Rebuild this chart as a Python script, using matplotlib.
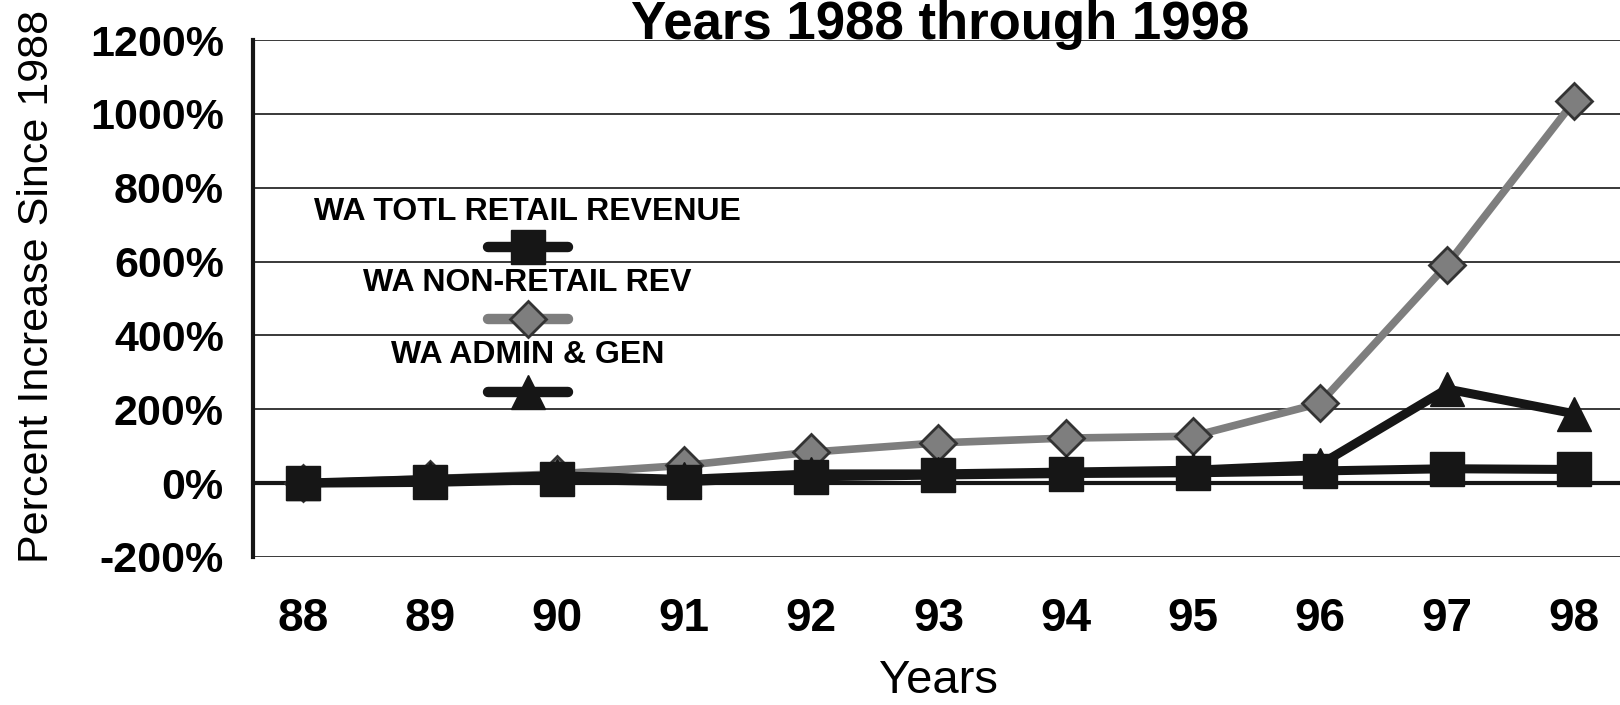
import matplotlib
matplotlib.use("Agg")
import matplotlib.pyplot as plt
from matplotlib.lines import Line2D

plt.rcParams['font.family'] = ['Liberation Sans', 'DejaVu Sans']

# percent increase since 1988
years = ["88", "89", "90", "91", "92", "93", "94", "95", "96", "97", "98"]
retail = [0, 2, 10, 4, 17, 22, 26, 28, 33, 39, 37]
nonretail = [0, 12, 25, 48, 84, 109, 122, 127, 216, 591, 1034]
admin = [0, 10, 20, 10, 25, 25, 30, 35, 50, 255, 188]
y_ticks = [-200, 0, 200, 400, 600, 800, 1000, 1200]

names = ["WA TOTL RETAIL REVENUE", "WA NON-RETAIL REV", "WA ADMIN & GEN"]
BLACK = "#161616"
GRAY = "#7e7e7e"
EDGE = "#333333"

W, H = 1620, 705
fig = plt.figure(figsize=(W / 100, H / 100), dpi=100)
ax = fig.add_axes([253 / W, 1 - 557 / H, 1 - 253 / W, (557 - 40) / H])

x = list(range(len(years)))

ax.plot(x, nonretail, color=GRAY, lw=5.5, marker="D", ms=18,
        mfc=GRAY, mec=EDGE, mew=2, zorder=3)
ax.plot(x, admin, color=BLACK, lw=6.5, marker="^", ms=24,
        mfc=BLACK, mec=BLACK, zorder=4)
ax.plot(x, retail, color=BLACK, lw=6.5, marker="s", ms=24,
        mfc=BLACK, mec=BLACK, zorder=5)

# category axis crossing at 0
ax.axhline(0, color=BLACK, lw=3, zorder=2)

ax.set_xlim(-0.393, 10.362)
ax.set_ylim(-200, 1200)
ax.set_yticks(y_ticks)
ax.set_yticklabels([f"{v}%" for v in y_ticks])
ax.set_xticks(x)
ax.set_xticklabels(years)
ax.tick_params(axis="y", length=0, pad=21, labelsize=31)
ax.tick_params(axis="x", length=0, pad=29, labelsize=33)
for lab in ax.get_xticklabels() + ax.get_yticklabels():
    lab.set_fontweight("bold")

ax.grid(axis="y", color="#2a2a2a", lw=1.3, zorder=1)
ax.set_axisbelow(True)
for side in ["top", "right", "bottom"]:
    ax.spines[side].set_visible(False)
ax.spines["left"].set_linewidth(3)
ax.spines["left"].set_color(BLACK)

fig.text(940 / W, 1 - 39 / H, "Years 1988 through 1998", ha="center",
         va="baseline", fontsize=38, fontweight="bold")
fig.text(37 / W, 1 - 286 / H, "Percent Increase Since 1988", rotation=90,
         ha="center", va="center", fontsize=31)
fig.text(938 / W, 1 - 681 / H, "Years", ha="center", va="center", fontsize=34)

# legend: label above its line sample, stacked
styles = [
    dict(color=BLACK, marker="s", ms=24, mfc=BLACK, mec=BLACK),
    dict(color=GRAY, marker="D", ms=18, mfc=GRAY, mec=EDGE, mew=2),
    dict(color=BLACK, marker="^", ms=24, mfc=BLACK, mec=BLACK),
]
text_y = [211.7, 283.3, 355]
line_y = [246.7, 319.3, 391.7]
cx = 527.5
for name, ty, ly, st in zip(names, text_y, line_y, styles):
    fig.text(cx / W, 1 - ty / H, name, ha="center", va="center",
             fontsize=23, fontweight="bold")
    fig.add_artist(Line2D([(cx - 40) / W, (cx + 40) / W], [1 - ly / H] * 2,
                          transform=fig.transFigure, lw=7.5,
                          solid_capstyle="round", color=st["color"]))
    fig.add_artist(Line2D([cx / W], [1 - ly / H], transform=fig.transFigure,
                          ls="none", **st))

fig.savefig("out.png", dpi=100)
